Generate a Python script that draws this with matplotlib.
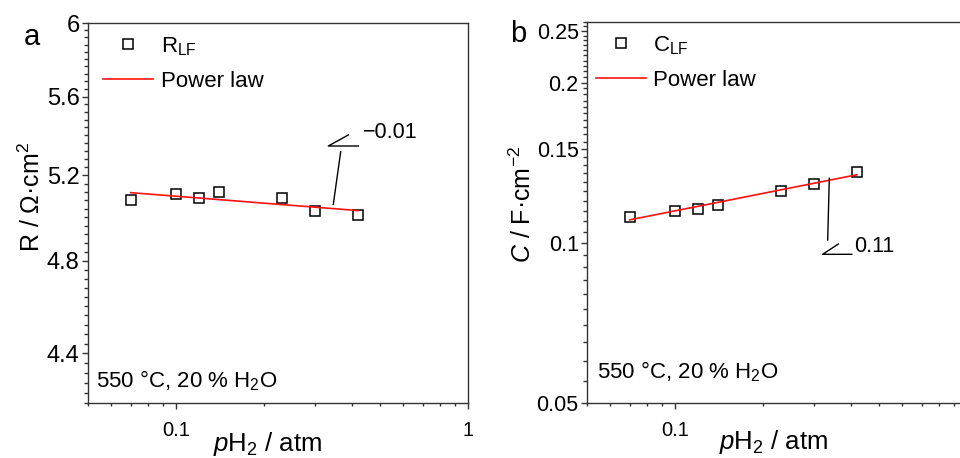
import numpy as np
import matplotlib
matplotlib.use("Agg")
import matplotlib.pyplot as plt
from matplotlib.lines import Line2D
from matplotlib.ticker import FixedLocator, MultipleLocator, LogLocator, FuncFormatter, NullFormatter

plt.rcParams["font.family"] = ["Liberation Sans", "DejaVu Sans"]
plt.rcParams["mathtext.fontset"] = "custom"
plt.rcParams["mathtext.rm"] = "Liberation Sans"
plt.rcParams["mathtext.it"] = "Liberation Sans:italic"
plt.rcParams["mathtext.bf"] = "Liberation Sans:bold"

# ---------------------------------------------------------------------------
# Data
# ---------------------------------------------------------------------------
pH2 = [0.07, 0.10, 0.12, 0.14, 0.23, 0.30, 0.42]          # atm
R_LF = [5.08, 5.11, 5.09, 5.12, 5.09, 5.03, 5.01]        # Ohm cm^2
C_LF = [0.112, 0.115, 0.116, 0.118, 0.125, 0.129, 0.136]  # F cm^-2

R_YTICKS = [4.4, 4.8, 5.2, 5.6, 6.0]
C_YTICKS = [0.05, 0.1, 0.15, 0.2, 0.25]

W, H = 960, 458


def fx(x):
    return x / W


def fy(y):
    return 1 - y / H


def power_law_fit(x, y):
    """Least squares line in log-log space -> exponent and prefactor."""
    n, logA = np.polyfit(np.log10(x), np.log10(y), 1)
    return n, 10 ** logA


def style_axes(ax, yticks, ymin, ymax, yminor, ylabelsize):
    ax.set_xscale("log")
    ax.set_yscale("log")
    ax.set_xlim(0.05, 1)
    ax.set_ylim(ymin, ymax)
    ax.xaxis.set_major_locator(LogLocator(base=10))
    ax.xaxis.set_minor_locator(LogLocator(base=10, subs=np.arange(2, 10)))
    ax.xaxis.set_major_formatter(FuncFormatter(lambda v, p: f"{v:g}"))
    ax.xaxis.set_minor_formatter(NullFormatter())
    ax.yaxis.set_major_locator(FixedLocator(yticks))
    ax.yaxis.set_minor_locator(MultipleLocator(yminor))
    ax.yaxis.set_major_formatter(FuncFormatter(lambda v, p: f"{v:g}"))
    ax.yaxis.set_minor_formatter(NullFormatter())
    ax.tick_params(which="both", direction="out", top=False, right=False,
                   width=1.0, color="#333333")
    ax.tick_params(axis="x", labelsize=14.5)
    ax.tick_params(axis="y", labelsize=ylabelsize)
    ax.tick_params(axis="y", which="major", length=4.5, pad=1.5)
    ax.tick_params(axis="y", which="minor", length=2.8)
    ax.tick_params(axis="x", which="major", length=4, pad=9)
    ax.tick_params(axis="x", which="minor", length=2.5)
    for s in ax.spines.values():
        s.set_linewidth(1.0)
        s.set_color("#333333")


def draw_panel(ax, y, label, yticks, ymin, ymax, yminor, ylabelsize, leg_anchor, cond_pos):
    n, A = power_law_fit(pH2, y)
    xs = np.array([min(pH2), max(pH2)])
    ax.plot(pH2, y, ls="none", marker="s", ms=6.5, mfc="none", mec="black",
            mew=1.1, label=label)
    ax.plot(xs, A * xs ** n, color="#ff1010", lw=1.2, label="Power law")
    style_axes(ax, yticks, ymin, ymax, yminor, ylabelsize)
    ax.legend(loc="upper left", bbox_to_anchor=leg_anchor, frameon=False,
              fontsize=16, borderpad=0, borderaxespad=0, handlelength=2.25,
              handletextpad=0.33, labelspacing=0.6)
    ax.text(cond_pos[0], cond_pos[1], "550 °C, 20 % H$_2$O", transform=ax.transAxes,
            fontsize=16, ha="left", va="center")
    return n


def slope_mark(fig, pts_leader, pts_angle, text, text_xy):
    lx, ly = zip(*pts_leader)
    fig.add_artist(Line2D([fx(v) for v in lx], [fy(v) for v in ly], color="black", lw=1.0))
    ax_, ay_ = zip(*pts_angle)
    fig.add_artist(Line2D([fx(v) for v in ax_], [fy(v) for v in ay_], color="black", lw=1.0))
    fig.text(fx(text_xy[0]), fy(text_xy[1]), text, fontsize=15.5, ha="left", va="center")


fig = plt.figure(figsize=(9.6, 4.58), dpi=100)
ax_a = fig.add_axes([fx(88), fy(403), fx(380), 380 / H])
ax_b = fig.add_axes([fx(587), fy(403), fx(380), 381 / H])

draw_panel(ax_a, R_LF, "R$_{\\mathrm{LF}}$", R_YTICKS, 4.2, 6.0, 0.04, 17,
           (0.04, 0.968), (0.021, 0.058))
draw_panel(ax_b, C_LF, "C$_{\\mathrm{LF}}$", C_YTICKS, 0.05, 0.26, 0.005, 15.5,
           (0.024, 0.968), (0.026, 0.081))

# panel letters
fig.text(fx(32), fy(37), "a", fontsize=21, ha="center", va="center")
fig.text(fx(518), fy(34), "b", fontsize=21, ha="center", va="center")

# axis titles
fig.text(fx(32), fy(197), "R / Ω·cm$^2$", fontsize=18, rotation=90, ha="center", va="center")
fig.text(fx(523), fy(204), "$C$ / F·cm$^{-2}$", fontsize=18, rotation=90, ha="center", va="center")
fig.text(fx(268), fy(451), "$p$H$_2$ / atm", fontsize=18.5, ha="center", va="baseline")
fig.text(fx(774), fy(449), "$p$H$_2$ / atm", fontsize=18.5, ha="center", va="baseline")

# slope markers
slope_mark(fig, [(340.7, 151.7), (333.3, 204.3)],
           [(348.3, 135), (328.3, 146), (358.3, 146)], "\u22120.01", (363, 132))
slope_mark(fig, [(829.3, 178.3), (827.7, 240)],
           [(838.3, 244), (822.7, 254.3), (851.7, 254.3)], "0.11", (854, 246))

fig.savefig("out.png", dpi=100)
